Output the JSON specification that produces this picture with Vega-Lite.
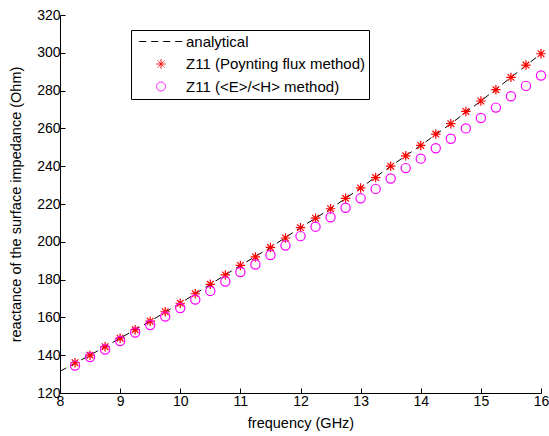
{
  "$schema": "https://vega.github.io/schema/vega-lite/v6.json",
  "width": 481,
  "height": 378,
  "autosize": "none",
  "padding": {"left": 60, "top": 15, "right": 8, "bottom": 43},
  "background": "white",
  "config": {
    "view": {"stroke": null},
    "font": "Liberation Sans",
    "axis": {
      "grid": false,
      "domainColor": "#000000",
      "tickColor": "#000000",
      "tickSize": -5,
      "labelFontSize": 14,
      "labelColor": "#000000",
      "titleFontSize": 14.5,
      "titleFontWeight": "normal",
      "titleColor": "#000000",
      "labelFont": "Liberation Sans",
      "titleFont": "Liberation Sans",
      "labelOverlap": false,
      "labelFlush": false
    },
    "legend": {
      "title": null,
      "orient": "none",
      "legendX": 71,
      "legendY": 15,
      "strokeColor": "#000000",
      "fillColor": "#ffffff",
      "padding": 4,
      "labelFontSize": 15,
      "labelLimit": 400,
      "labelColor": "#000000",
      "labelFont": "Liberation Sans",
      "rowPadding": 6.5,
      "symbolStrokeWidth": 1,
      "symbolSize": 90,
      "cornerRadius": 0
    }
  },
  "datasets": {
    "analytical": [
      {"freq": 8.0, "value": 131.5}, {"freq": 8.5, "value": 140}, {"freq": 9.0, "value": 149}, {"freq": 9.5, "value": 158},
      {"freq": 10.0, "value": 167.5}, {"freq": 10.5, "value": 177.5}, {"freq": 11.0, "value": 187.5}, {"freq": 11.5, "value": 197},
      {"freq": 12.0, "value": 207.5}, {"freq": 12.5, "value": 217.5}, {"freq": 13.0, "value": 228.5}, {"freq": 13.5, "value": 240},
      {"freq": 14.0, "value": 251}, {"freq": 14.5, "value": 262.5}, {"freq": 15.0, "value": 274.5}, {"freq": 15.5, "value": 287},
      {"freq": 16.0, "value": 299.5}
    ],
    "poynting": [
      {"freq": 8.25, "value": 136}, {"freq": 8.5, "value": 140}, {"freq": 8.75, "value": 144.5}, {"freq": 9.0, "value": 149},
      {"freq": 9.25, "value": 153.5}, {"freq": 9.5, "value": 158}, {"freq": 9.75, "value": 163}, {"freq": 10.0, "value": 167.5},
      {"freq": 10.25, "value": 172.5}, {"freq": 10.5, "value": 177.5}, {"freq": 10.75, "value": 182.5}, {"freq": 11.0, "value": 187.5},
      {"freq": 11.25, "value": 192}, {"freq": 11.5, "value": 197}, {"freq": 11.75, "value": 202}, {"freq": 12.0, "value": 207.5},
      {"freq": 12.25, "value": 212.5}, {"freq": 12.5, "value": 217.5}, {"freq": 12.75, "value": 223}, {"freq": 13.0, "value": 228.5},
      {"freq": 13.25, "value": 234}, {"freq": 13.5, "value": 240}, {"freq": 13.75, "value": 245.5}, {"freq": 14.0, "value": 251},
      {"freq": 14.25, "value": 257}, {"freq": 14.5, "value": 262.5}, {"freq": 14.75, "value": 269}, {"freq": 15.0, "value": 274.5},
      {"freq": 15.25, "value": 280.5}, {"freq": 15.5, "value": 287}, {"freq": 15.75, "value": 293.5}, {"freq": 16.0, "value": 299.5}
    ],
    "eh": [
      {"freq": 8.25, "value": 134.5}, {"freq": 8.5, "value": 139}, {"freq": 8.75, "value": 143}, {"freq": 9.0, "value": 147.5},
      {"freq": 9.25, "value": 152}, {"freq": 9.5, "value": 156}, {"freq": 9.75, "value": 160.5}, {"freq": 10.0, "value": 165},
      {"freq": 10.25, "value": 169.5}, {"freq": 10.5, "value": 174}, {"freq": 10.75, "value": 179}, {"freq": 11.0, "value": 184},
      {"freq": 11.25, "value": 188}, {"freq": 11.5, "value": 193}, {"freq": 11.75, "value": 198}, {"freq": 12.0, "value": 203},
      {"freq": 12.25, "value": 208}, {"freq": 12.5, "value": 213}, {"freq": 12.75, "value": 218}, {"freq": 13.0, "value": 223},
      {"freq": 13.25, "value": 228}, {"freq": 13.5, "value": 233.5}, {"freq": 13.75, "value": 239}, {"freq": 14.0, "value": 244},
      {"freq": 14.25, "value": 249.5}, {"freq": 14.5, "value": 254.5}, {"freq": 14.75, "value": 260}, {"freq": 15.0, "value": 265.5},
      {"freq": 15.25, "value": 271}, {"freq": 15.5, "value": 277}, {"freq": 15.75, "value": 282.5}, {"freq": 16.0, "value": 288}
    ]
  },
  "layer": [
    {
      "data": {"name": "analytical"},
      "transform": [{"calculate": "'analytical'", "as": "series"}],
      "mark": {"type": "line", "strokeWidth": 1, "clip": true},
      "encoding": {
        "x": {"field": "freq", "type": "quantitative", "scale": {"domain": [8, 16], "nice": false, "zero": false},
              "axis": {"values": [8, 9, 10, 11, 12, 13, 14, 15, 16], "format": "d", "labelOverlap": false, "title": "frequency (GHz)", "labelPadding": 6, "titlePadding": 8}},
        "y": {"field": "value", "type": "quantitative", "scale": {"domain": [120, 320], "nice": false, "zero": false},
              "axis": {"values": [120, 140, 160, 180, 200, 220, 240, 260, 280, 300, 320], "tickCount": 11, "format": "d", "labelOverlap": false, "title": "reactance of the surface impedance (Ohm)", "labelPadding": 5, "titlePadding": 13}},
        "color": {"field": "series", "type": "nominal",
          "scale": {"domain": ["analytical", "Z11 (Poynting flux method)", "Z11 (<E>/<H> method)"], "range": ["#000000", "#ff0000", "#ff00ff"]},
          "legend": {"encode": {
            "symbols": {"update": {"x": {"value": 26}, "size": {"signal": "datum.value === 'analytical' ? 1900 : (datum.value === 'Z11 (<E>/<H> method)' ? 80 : 90)"}}},
            "labels": {"update": {"x": {"value": 51}}}}}},
        "strokeDash": {"field": "series", "type": "nominal",
          "scale": {"domain": ["analytical", "Z11 (Poynting flux method)", "Z11 (<E>/<H> method)"], "range": [[7, 5], [1, 0], [1, 0]]},
          "legend": {"encode": {
            "symbols": {"update": {"x": {"value": 26}, "size": {"signal": "datum.value === 'analytical' ? 1900 : (datum.value === 'Z11 (<E>/<H> method)' ? 80 : 90)"}}},
            "labels": {"update": {"x": {"value": 51}}}}}}
      }
    },
    {
      "data": {"name": "poynting"},
      "transform": [{"calculate": "'Z11 (Poynting flux method)'", "as": "series"}],
      "mark": {"type": "point", "filled": false, "strokeWidth": 1.2, "opacity": 1, "size": 90},
      "encoding": {
        "x": {"field": "freq", "type": "quantitative",
              "axis": {"values": [8, 9, 10, 11, 12, 13, 14, 15, 16], "format": "d", "labelOverlap": false, "title": "frequency (GHz)", "labelPadding": 6, "titlePadding": 8}},
        "y": {"field": "value", "type": "quantitative",
              "axis": {"values": [120, 140, 160, 180, 200, 220, 240, 260, 280, 300, 320], "tickCount": 11, "format": "d", "labelOverlap": false, "title": "reactance of the surface impedance (Ohm)", "labelPadding": 5, "titlePadding": 13}},
        "color": {"field": "series", "type": "nominal"},
        "shape": {"field": "series", "type": "nominal",
          "scale": {"domain": ["analytical", "Z11 (Poynting flux method)", "Z11 (<E>/<H> method)"],
                    "range": ["stroke", "M0,-1L0,1M-1,0L1,0M-0.7,-0.7L0.7,0.7M-0.7,0.7L0.7,-0.7", "circle"]},
          "legend": {"encode": {
            "symbols": {"update": {"x": {"value": 26}, "size": {"signal": "datum.value === 'analytical' ? 1900 : (datum.value === 'Z11 (<E>/<H> method)' ? 80 : 90)"}}},
            "labels": {"update": {"x": {"value": 51}}}}}}
      }
    },
    {
      "data": {"name": "eh"},
      "transform": [{"calculate": "'Z11 (<E>/<H> method)'", "as": "series"}],
      "mark": {"type": "point", "filled": false, "strokeWidth": 1.2, "opacity": 1, "size": 85},
      "encoding": {
        "x": {"field": "freq", "type": "quantitative",
              "axis": {"values": [8, 9, 10, 11, 12, 13, 14, 15, 16], "format": "d", "labelOverlap": false, "title": "frequency (GHz)", "labelPadding": 6, "titlePadding": 8}},
        "y": {"field": "value", "type": "quantitative",
              "axis": {"values": [120, 140, 160, 180, 200, 220, 240, 260, 280, 300, 320], "tickCount": 11, "format": "d", "labelOverlap": false, "title": "reactance of the surface impedance (Ohm)", "labelPadding": 5, "titlePadding": 13}},
        "color": {"field": "series", "type": "nominal"},
        "shape": {"field": "series", "type": "nominal"}
      }
    }
  ]
}
